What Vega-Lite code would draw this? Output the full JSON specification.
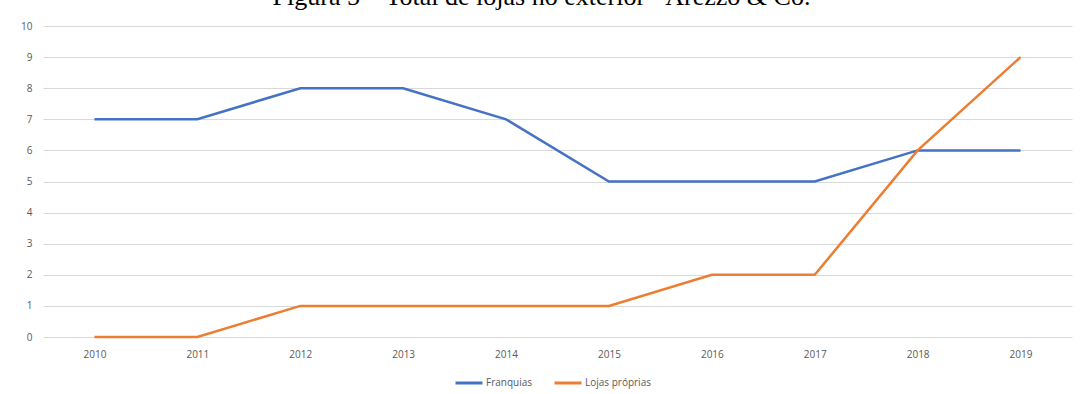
{
  "$schema": "https://vega.github.io/schema/vega-lite/v6.json",
  "autosize": "none",
  "width": 1029,
  "height": 311,
  "padding": {"left": 43, "top": 26, "right": 8, "bottom": 57},
  "background": "white",
  "title": {
    "text": "Figura 5 – Total de lojas no exterior - Arezzo & Co.",
    "font": "Liberation Serif",
    "fontSize": 26,
    "fontWeight": "normal",
    "color": "#000000",
    "anchor": "middle",
    "frame": "group",
    "baseline": "alphabetic",
    "offset": 0,
    "dy": 10,
    "dx": -16
  },
  "config": {
    "view": {"stroke": null},
    "axis": {
      "labelFont": "Open Sans",
      "labelFontSize": 10,
      "labelColor": "#595959",
      "domain": false,
      "ticks": false,
      "title": null
    }
  },
  "data": {
    "values": [
      {"year": "2010", "series": "Franquias", "value": 7},
      {"year": "2011", "series": "Franquias", "value": 7},
      {"year": "2012", "series": "Franquias", "value": 8},
      {"year": "2013", "series": "Franquias", "value": 8},
      {"year": "2014", "series": "Franquias", "value": 7},
      {"year": "2015", "series": "Franquias", "value": 5},
      {"year": "2016", "series": "Franquias", "value": 5},
      {"year": "2017", "series": "Franquias", "value": 5},
      {"year": "2018", "series": "Franquias", "value": 6},
      {"year": "2019", "series": "Franquias", "value": 6},
      {"year": "2010", "series": "Lojas próprias", "value": 0},
      {"year": "2011", "series": "Lojas próprias", "value": 0},
      {"year": "2012", "series": "Lojas próprias", "value": 1},
      {"year": "2013", "series": "Lojas próprias", "value": 1},
      {"year": "2014", "series": "Lojas próprias", "value": 1},
      {"year": "2015", "series": "Lojas próprias", "value": 1},
      {"year": "2016", "series": "Lojas próprias", "value": 2},
      {"year": "2017", "series": "Lojas próprias", "value": 2},
      {"year": "2018", "series": "Lojas próprias", "value": 6},
      {"year": "2019", "series": "Lojas próprias", "value": 9}
    ]
  },
  "mark": {"type": "line", "strokeWidth": 2.5},
  "encoding": {
    "x": {
      "field": "year",
      "type": "ordinal",
      "scale": {"type": "point", "padding": 0.5},
      "axis": {"labelAngle": 0, "labelPadding": 12, "grid": false}
    },
    "y": {
      "field": "value",
      "type": "quantitative",
      "scale": {"domain": [0, 10], "nice": false},
      "axis": {
        "values": [0, 1, 2, 3, 4, 5, 6, 7, 8, 9, 10],
        "grid": true,
        "gridColor": "#d9d9d9",
        "gridWidth": 1,
        "labelPadding": 11
      }
    },
    "color": {
      "field": "series",
      "type": "nominal",
      "scale": {"domain": ["Franquias", "Lojas próprias"], "range": ["#4472C4", "#ED7D31"]},
      "legend": {
        "title": null,
        "orient": "none",
        "direction": "horizontal",
        "legendX": 411,
        "legendY": 342,
        "symbolType": "stroke",
        "symbolSize": 729,
        "symbolStrokeWidth": 3,
        "labelFont": "Open Sans",
        "labelFontSize": 10,
        "labelColor": "#595959",
        "labelOffset": 2,
        "columnPadding": 15
      }
    }
  }
}
